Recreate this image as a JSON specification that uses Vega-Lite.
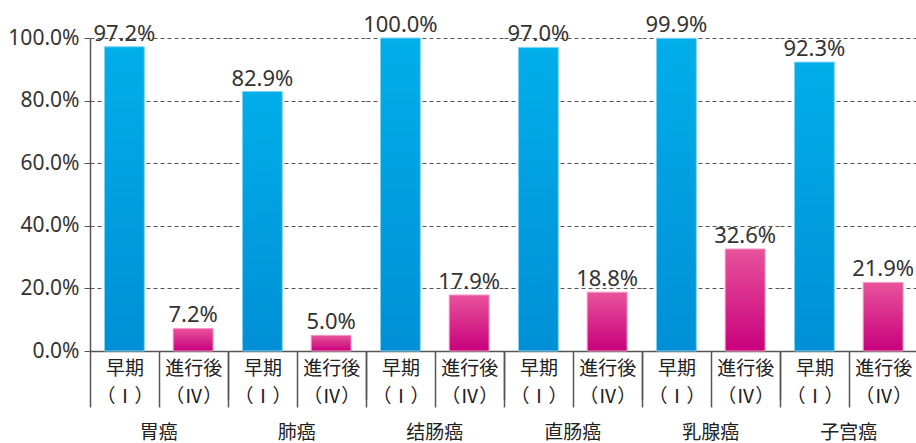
{
  "$schema": "https://vega.github.io/schema/vega-lite/v6.json",
  "padding": {"left": 7, "top": 14, "right": 0, "bottom": 0},
  "bounds": "flush",
  "data": {
    "values": [
      {"group": "胃癌", "stage": "早期", "value": 0.972},
      {"group": "胃癌", "stage": "進行後", "value": 0.072},
      {"group": "肺癌", "stage": "早期", "value": 0.829},
      {"group": "肺癌", "stage": "進行後", "value": 0.050},
      {"group": "结肠癌", "stage": "早期", "value": 1.000},
      {"group": "结肠癌", "stage": "進行後", "value": 0.179},
      {"group": "直肠癌", "stage": "早期", "value": 0.970},
      {"group": "直肠癌", "stage": "進行後", "value": 0.188},
      {"group": "乳腺癌", "stage": "早期", "value": 0.999},
      {"group": "乳腺癌", "stage": "進行後", "value": 0.326},
      {"group": "子宫癌", "stage": "早期", "value": 0.923},
      {"group": "子宫癌", "stage": "進行後", "value": 0.219}
    ]
  },
  "facet": {
    "column": {
      "field": "group",
      "type": "nominal",
      "sort": ["胃癌", "肺癌", "结肠癌", "直肠癌", "乳腺癌", "子宫癌"],
      "header": {
        "title": null,
        "labelOrient": "bottom",
        "labelFont": "Noto Sans CJK JP",
        "labelFontSize": 19,
        "labelColor": "#222",
        "labelPadding": 16
      }
    }
  },
  "spacing": 0,
  "spec": {
    "width": 137.5,
    "height": 313,
    "encoding": {
      "x": {
        "field": "stage",
        "type": "nominal",
        "sort": ["早期", "進行後"],
        "scale": {"paddingInner": 0, "paddingOuter": 0},
        "axis": {
          "title": null,
          "labelAngle": 0,
          "labelExpr": "datum.value == '早期' ? ['早期', '（Ⅰ）'] : (datum.value == '進行後' ? ['進行後', '（Ⅳ）'] : '')",
          "labelFont": "Noto Sans CJK JP",
          "labelFontSize": 19,
          "labelColor": "#222",
          "labelLineHeight": 28,
          "labelBaseline": "top",
          "labelPadding": {"condition": {"test": "datum.value == '進行後'", "value": -40}, "value": -48},
          "labelOverlap": false,
          "tickBand": "extent",
          "tickSize": {"condition": {"test": "datum.value == '進行後'", "value": 48}, "value": 56},
          "tickColor": "#555",
          "tickWidth": 1.5,
          "domainColor": "#555",
          "domainWidth": 1.5
        }
      },
      "y": {
        "field": "value",
        "type": "quantitative",
        "scale": {"domain": [0, 1], "nice": false},
        "axis": {
          "title": null,
          "values": [0, 0.2, 0.4, 0.6, 0.8, 1],
          "format": ".1%",
          "labelFont": "Noto Sans",
          "labelFontSize": 21,
          "labelColor": "#333",
          "labelPadding": 5,
          "tickSize": 6,
          "tickColor": "#555",
          "domainColor": "#555",
          "domainWidth": 1.5,
          "grid": true,
          "gridColor": "#555",
          "gridDash": [4, 3],
          "gridWidth": 1.2
        }
      }
    },
    "layer": [
      {
        "transform": [{"filter": "datum.stage == '早期'"}],
        "mark": {
          "type": "bar",
          "width": {"band": 0.58},
          "stroke": "#7fd4f5",
          "strokeWidth": 1,
          "color": {
            "gradient": "linear", "x1": 0, "y1": 0, "x2": 0, "y2": 1,
            "stops": [{"offset": 0, "color": "#00aeea"}, {"offset": 1, "color": "#008fd6"}]
          }
        }
      },
      {
        "transform": [{"filter": "datum.stage == '進行後'"}],
        "mark": {
          "type": "bar",
          "width": {"band": 0.58},
          "stroke": "#f59ac4",
          "strokeWidth": 1,
          "color": {
            "gradient": "linear", "x1": 0, "y1": 0, "x2": 0, "y2": 1,
            "stops": [{"offset": 0, "color": "#e8539b"}, {"offset": 1, "color": "#c8007c"}]
          }
        }
      },
      {
        "mark": {"type": "text", "baseline": "alphabetic", "dy": -6, "font": "Noto Sans", "fontSize": 22, "color": "#333"},
        "encoding": {
          "text": {"field": "value", "type": "quantitative", "format": ".1%"}
        }
      }
    ]
  },
  "config": {
    "view": {"stroke": null}
  }
}
